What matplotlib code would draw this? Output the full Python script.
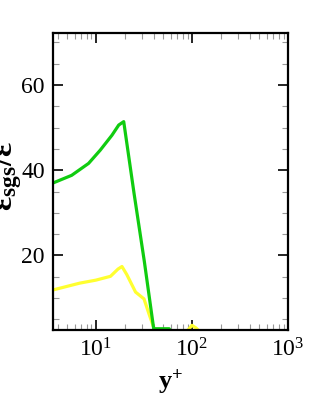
import numpy as np
import matplotlib.pyplot as plt
from matplotlib.ticker import MultipleLocator, LogLocator, NullFormatter

plt.rcParams['font.family'] = ['Liberation Serif', 'DejaVu Serif']
plt.rcParams['mathtext.fontset'] = 'custom'
plt.rcParams['mathtext.rm'] = 'Liberation Serif'
plt.rcParams['mathtext.it'] = 'Liberation Serif:italic'
plt.rcParams['mathtext.bf'] = 'Liberation Serif:bold'

# -------------------------------
# Data
# -------------------------------
yplus_green = [3.58, 5.6, 8.4, 11.1, 14.7, 17.3, 19.5, 25.0, 32.0, 40.0, 58.0, 62.0, 80.0]
ratio_green = [37.0, 38.8, 41.6, 44.7, 48.2, 50.6, 51.4, 34.5, 18.5, 2.8, 2.8, 1.5, 1.0]

yplus_yellow = [3.58, 6.8, 10.0, 14.2, 17.0, 18.7, 21.0, 25.9, 31.7, 35.7, 40.4, 50.0,
                80.0, 92.0, 100.0, 110.0, 125.0, 200.0]
ratio_yellow = [11.9, 13.5, 14.2, 15.1, 16.8, 17.4, 15.5, 11.4, 9.8, 6.3, 2.8, 1.5,
                1.5, 2.6, 3.6, 3.0, 1.8, 1.0]

green = "#10cc10"
yellow = "#ffff30"

# -------------------------------
# Plot
# -------------------------------
fig = plt.figure(figsize=(3.14, 3.93), dpi=100)
ax = fig.add_axes([53 / 314, 1 - 330 / 393, 235 / 314, 297 / 393])

ax.plot(yplus_yellow, ratio_yellow, color=yellow, lw=2.3)
ax.plot(yplus_green, ratio_green, color=green, lw=2.3)

ax.set_xscale("log")
ax.set_xlim(3.58, 1000)
ax.set_ylim(2.5, 72.2)

ax.yaxis.set_major_locator(MultipleLocator(20))
ax.yaxis.set_minor_locator(MultipleLocator(5))
ax.xaxis.set_major_locator(LogLocator(base=10, numticks=10))
ax.xaxis.set_minor_locator(LogLocator(base=10, subs=np.arange(2, 10), numticks=20))
ax.xaxis.set_minor_formatter(NullFormatter())

ax.tick_params(which="both", direction="in", top=True, right=True,
               labelsize=17, width=1.2, color="black")
ax.tick_params(which="major", length=7, pad=6)
ax.tick_params(which="minor", length=4, width=0.8, color="#999999")

for s in ax.spines.values():
    s.set_linewidth(1.6)

ax.set_xlabel(r"$\mathbf{y^{+}}$", fontsize=19, labelpad=4)
ax.set_ylabel("ε" + r"$_{\mathbf{sgs}}$" + "/ε", fontsize=24, fontweight="bold")
ax.yaxis.set_label_coords(-0.122, 0.52)

plt.savefig("out.png", dpi=100)
plt.close()
